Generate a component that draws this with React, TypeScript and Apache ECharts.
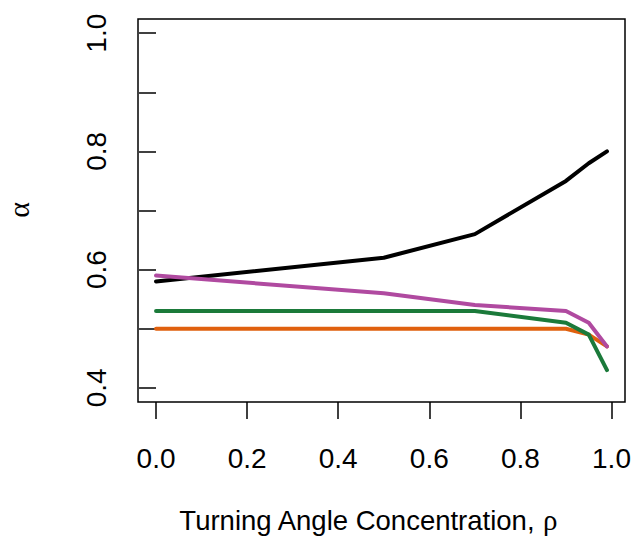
import React, { useEffect, useRef } from "react";
import * as echarts from "echarts";

const rho = [0, 0.5, 0.7, 0.9, 0.95, 0.99];
const blackSeries = [0.58, 0.62, 0.66, 0.75, 0.78, 0.8];
const purpleSeries = [0.59, 0.56, 0.54, 0.53, 0.51, 0.47];
const greenSeries = [0.53, 0.53, 0.53, 0.51, 0.49, 0.43];
const orangeSeries = [0.5, 0.5, 0.5, 0.5, 0.49, 0.47];
const xTicks = [0, 0.2, 0.4, 0.6, 0.8, 1.0];
const yTicks = [0.4, 0.5, 0.6, 0.7, 0.8, 0.9, 1.0];
const yLabels = [0.4, 0.6, 0.8, 1.0];

const FONT = "Liberation Sans, Arial, sans-serif";
const SERIF = "Liberation Serif, DejaVu Serif, serif";

export default function App() {
  const ref = useRef<HTMLDivElement>(null);
  useEffect(() => {
    if (!ref.current) return;
    const chart = echarts.init(ref.current, null, { renderer: "svg" });
    const mk = (name: string, vals: number[], color: string) => ({
      name,
      type: "line",
      data: rho.map((x, i) => [x, vals[i]]),
      showSymbol: false,
      symbol: "none",
      lineStyle: { color, width: 4, cap: "round", join: "round" },
    });
    chart.setOption({
      animation: false,
      backgroundColor: "#fff",
      grid: {
        left: 138,
        right: 9,
        top: 19,
        bottom: 135,
        show: true,
        borderColor: "#000",
        borderWidth: 1.5,
        backgroundColor: "transparent",
      },
      xAxis: {
        type: "value",
        min: -0.0396,
        max: 1.0296,
        splitLine: { show: false },
        axisLine: { show: false },
        axisTick: {
          show: true,
          customValues: xTicks,
          length: 17,
          lineStyle: { color: "#000", width: 1.5 },
        },
        axisLabel: {
          customValues: xTicks,
          formatter: (v: number) => v.toFixed(1),
          fontFamily: FONT,
          fontSize: 28,
          color: "#000",
          margin: 42,
        },
      },
      yAxis: {
        type: "value",
        min: 0.376,
        max: 1.024,
        splitLine: { show: false },
        axisLine: { show: false },
        axisTick: {
          show: true,
          customValues: yTicks,
          length: 17,
          lineStyle: { color: "#000", width: 1.5 },
        },
        axisLabel: {
          customValues: yLabels,
          formatter: (v: number) => v.toFixed(1),
          fontFamily: FONT,
          fontSize: 28,
          color: "#000",
          rotate: 90,
          margin: 28,
        },
      },
      graphic: [
        {
          type: "text",
          x: 368,
          y: 520,
          style: {
            text: "{a|Turning Angle Concentration, }{b|ρ}",
            align: "center",
            verticalAlign: "middle",
            rich: {
              a: { fontFamily: FONT, fontSize: 27.5, fill: "#000" },
              b: { fontFamily: SERIF, fontSize: 29, fill: "#000" },
            },
          },
        },
        {
          type: "text",
          x: 18,
          y: 210,
          rotation: Math.PI / 2,
          style: {
            text: "α",
            fontFamily: SERIF,
            fontSize: 30,
            fill: "#000",
            align: "center",
            verticalAlign: "middle",
          },
        },
      ],
      series: [
        mk("black", blackSeries, "#000000"),
        mk("orange", orangeSeries, "#E0600E"),
        mk("green", greenSeries, "#1B7A3A"),
        mk("purple", purpleSeries, "#B04AA0"),
      ],
    });
    return () => chart.dispose();
  }, []);
  return (
    <div
      ref={ref}
      style={{ position: "fixed", left: 0, top: 0, width: 634, height: 537 }}
    />
  );
}
